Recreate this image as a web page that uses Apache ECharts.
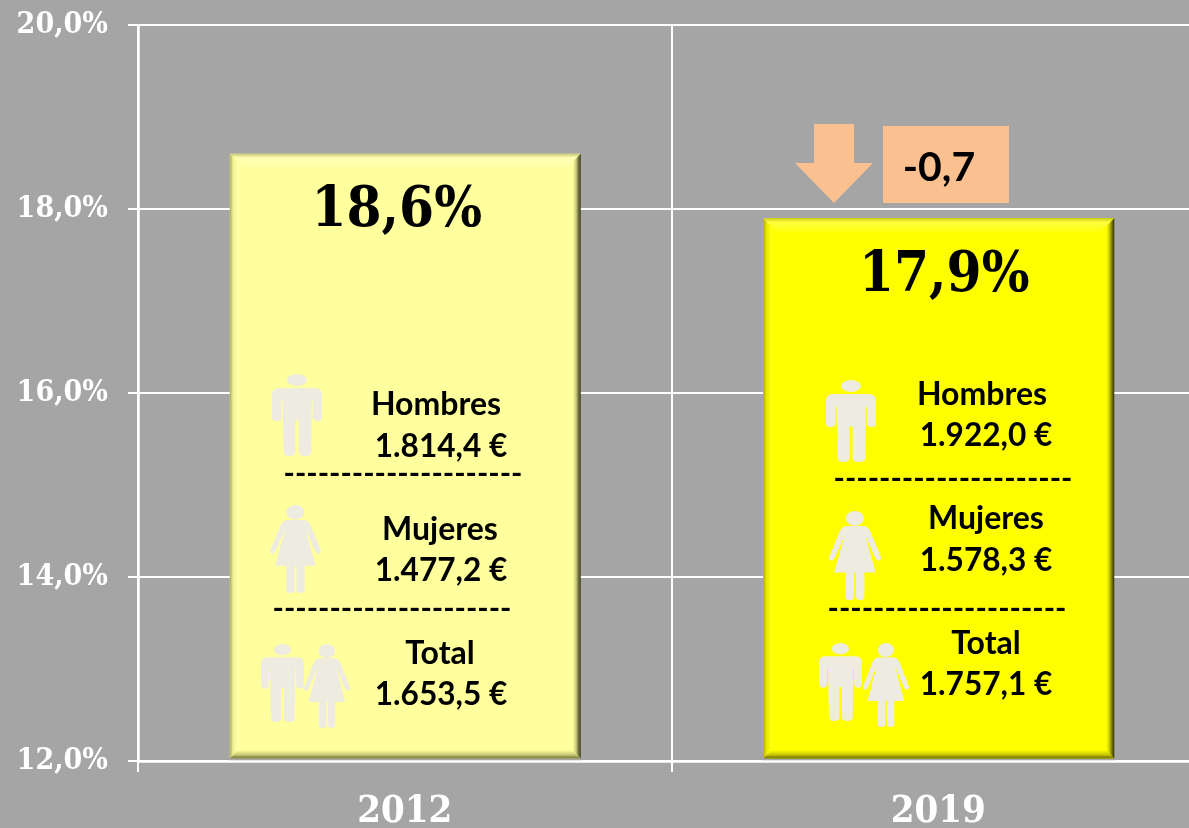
<!DOCTYPE html>
<html><head><meta charset="utf-8">
<style>html,body{margin:0;padding:0;background:#a5a5a5;overflow:hidden}#c{width:1189px;height:828px}</style>
<script src="https://cdn.jsdelivr.net/npm/echarts@6/dist/echarts.min.js"></script>
</head><body><div id="c"></div>
<script>
const categories = ['2012', '2019'];
const shares = [18.6, 17.9];
const labelsGroup = ['Hombres', 'Mujeres', 'Total'];
const wages2012 = ['1.814,4 €', '1.477,2 €', '1.653,5 €'];
const wages2019 = ['1.922,0 €', '1.578,3 €', '1.757,1 €'];
const deltaText = '-0,7';
const dashes = '---------------------';
const axisMin = 12, axisMax = 20, axisStep = 2;

const SERIF = '"DejaVu Serif Condensed","DejaVu Serif",serif';
const SANS = 'Lato,Carlito,sans-serif';
const BG = '#a5a5a5';
const barW = 350, bev = 13;
const barStyles = [
  {fill:'#ffff9d',
   top:[[0,'#c8c878'],[.3,'#ffffb4'],[1,'#ffffa8']],
   left:[[0,'#a8a860'],[.25,'#f0f090'],[.6,'#ffffa8'],[1,'#ffff9d']],
   right:[[0,'#ffff9d'],[.4,'#ffff9d'],[.65,'#c4c47a'],[.85,'#6a6a3c'],[1,'#3d3d20']],
   bottom:[[0,'#ffff9d'],[.35,'#ffff9d'],[.7,'#cccc78'],[1,'#70703a']]},
  {fill:'#ffff00',
   top:[[0,'#c8c810'],[.3,'#ffff40'],[1,'#ffff14']],
   left:[[0,'#a8a800'],[.25,'#e8e800'],[.6,'#ffff10'],[1,'#ffff00']],
   right:[[0,'#ffff00'],[.4,'#ffff00'],[.65,'#c0c000'],[.85,'#6a6a00'],[1,'#2e2e00']],
   bottom:[[0,'#ffff00'],[.35,'#ffff00'],[.7,'#c8c800'],[1,'#6a6a00']]}
];
const grad = (x2,y2,c)=>({type:'linear',x:0,y:0,x2,y2,colorStops:c.map(s=>({offset:s[0],color:s[1]}))});

const manPath = 'M22,42L128,42Q150,42 150,64L150,130Q150,142 138,142Q125,142 122,130L122,80L119,80L118,235Q118,247 100,247Q80,247 80,235L80,140L70,140L70,235Q70,247 52,247Q35,247 35,235L31,80L28,80L28,130Q28,142 15,142Q0,142 0,130L0,64Q0,42 22,42ZM45,18A30,18 0 1,0 105,18A30,18 0 1,0 45,18Z';
const womanPath = 'M55,45L100,45Q115,45 122,60L153,135Q156,145 148,147Q140,148 136,138L108,75L138,183L105,183L105,255Q105,265 92,265Q82,265 80,255L80,183L75,183L75,255Q75,265 62,265Q50,265 50,255L50,183L16,183L46,75L18,138Q14,148 6,147Q-2,145 2,135L33,60Q40,45 55,45ZM50,22A27,22 0 1,0 104,22A27,22 0 1,0 50,22Z';
const icons = [
  [manPath,272,374,50,82],[womanPath,270,505,51,88],[manPath,261,644,43,78],[womanPath,304,644,46,84],
  [manPath,826,380,50,82],[womanPath,829,511,52,89],[manPath,819,643,43,78],[womanPath,863,643,46,84]
];

function txt(t,cx,cy,size,font,extra){return Object.assign({type:'text',z:21,x:cx,y:cy,style:{text:t,fill:'#000',font:`bold ${size}px ${font}`,align:'center',verticalAlign:'middle'},silent:true},extra||{});}

const textY = [[405,447,530,571,654,695],[395,436,519,561,644,685]];
const textX = [[436,441,440,441,440,441],[982,986,986,986,986,986]];
const graphics = [];
[wages2012,wages2019].forEach((w,i)=>{
  labelsGroup.forEach((l,j)=>{
    graphics.push(txt(l,textX[i][j*2],textY[i][j*2],32,SANS));
    graphics.push(txt(w[j],textX[i][j*2+1],textY[i][j*2+1],31.6,SANS));
  });
});
[[403,474],[392,609],[953,479],[947,609]].forEach(p=>graphics.push(txt(dashes,p[0],p[1],30.5,SANS)));
graphics.push(
  {type:'rect',z:20,shape:{x:883,y:126,width:126,height:77},style:{fill:'#fbc08f'},silent:true},
  {type:'polygon',z:20,shape:{points:[[814,124],[854,124],[854,163],[873,163],[834,203],[795,163],[814,163]]},style:{fill:'#fbc08f'},silent:true},
  txt(deltaText,939,168,41,SANS)
);

const chart = echarts.init(document.getElementById('c'),null,{renderer:'canvas'});
chart.setOption({
  animation:false,
  backgroundColor:BG,
  grid:{left:138,top:25,width:1067,height:736,outerBoundsMode:'none',containLabel:false},
  xAxis:{type:'category',data:categories,z:10,
    axisLine:{lineStyle:{color:'#fff',width:2.5}},
    axisTick:{show:true,length:11,lineStyle:{color:'#fff',width:2},alignWithLabel:false},
    splitLine:{show:true,interval:0,lineStyle:{color:'#fff',width:2}},
    axisLabel:{color:'#fff',fontFamily:SERIF,fontWeight:'bold',fontSize:38,margin:32,interval:0}},
  yAxis:{type:'value',min:axisMin,max:axisMax,interval:axisStep,
    axisLine:{show:true,lineStyle:{color:'#fff',width:2.5}},
    axisTick:{show:true,length:10,lineStyle:{color:'#fff',width:2}},
    splitLine:{show:true,lineStyle:{color:'#fff',width:2}},
    axisLabel:{color:'#fff',fontFamily:SERIF,fontWeight:'bold',fontSize:30,margin:30,padding:[8,0,0,0],
      formatter:v=>v.toFixed(1).replace('.',',')+'%'}},
  graphic:graphics,
  series:[
    {type:'bar',barWidth:barW,z:5,
     data:shares.map((v,i)=>({value:v,itemStyle:{color:barStyles[i].fill}})),
     label:{show:true,position:'insideTop',distance:30,color:'#000',fontFamily:SERIF,fontWeight:'bold',fontSize:56,
       formatter:p=>p.value.toFixed(1).replace('.',',')+'%'},
     labelLayout:(p)=>({dx:p.dataIndex===0?-8:6})
    },
    {type:'custom',z:6,silent:true,
     data:shares.map((v,i)=>[i,v]),
     encode:{x:0,y:1},
     renderItem:(params,api)=>{
       const i=api.value(0), top=api.coord([i,api.value(1)]), bot=api.coord([i,axisMin]);
       const x0=top[0]-barW/2,x1=top[0]+barW/2+1,y0=top[1],y1=bot[1]-2.5,s=barStyles[i];
       const poly=(pts,fill)=>({type:'polygon',shape:{points:pts},style:{fill}});
       return {type:'group',children:[
         {type:'rect',shape:{x:x0-1,y:y1,width:barW+3,height:4},style:{fill:BG}},
         poly([[x0,y0],[x1,y0],[x1-bev,y0+bev],[x0+bev,y0+bev]],grad(0,1,s.top)),
         poly([[x0,y0],[x0+bev,y0+bev],[x0+bev,y1-bev],[x0,y1]],grad(1,0,s.left)),
         poly([[x1,y0],[x1-bev,y0+bev],[x1-bev,y1-bev],[x1,y1]],grad(1,0,s.right)),
         poly([[x0,y1],[x0+bev,y1-bev],[x1-bev,y1-bev],[x1,y1]],grad(0,1,s.bottom))
       ]};
     }},
    {type:'custom',coordinateSystem:'none',z:7,silent:true,
     data:icons.map((d,i)=>[i]),
     renderItem:(params)=>{
       const d=icons[params.dataIndex];
       return {type:'path',shape:{pathData:d[0],layout:'cover',x:d[1],y:d[2],width:d[3],height:d[4]},style:{fill:'#eeece1'}};
     }}
  ]
});
</script></body></html>
